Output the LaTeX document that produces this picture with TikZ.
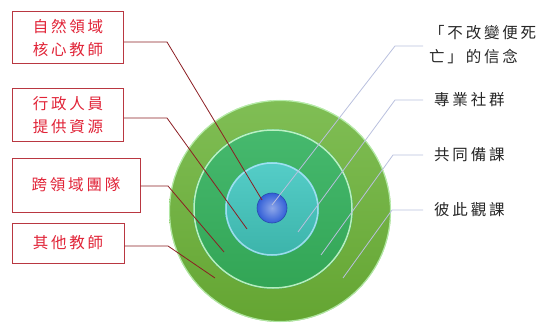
\documentclass[tikz,border=0pt]{standalone}
\usepackage{fontspec}
\setmainfont{Noto Sans CJK TC}[LetterSpace=18]
\definecolor{boxred}{RGB}{185,55,65}
\definecolor{txtred}{RGB}{225,35,55}
\definecolor{leadred}{RGB}{140,30,35}
\definecolor{leadblue}{RGB}{185,192,222}
\definecolor{outerA}{RGB}{128,190,85}
\definecolor{outerB}{RGB}{100,165,50}
\definecolor{midA}{RGB}{70,185,110}
\definecolor{midB}{RGB}{50,165,85}
\definecolor{tealA}{RGB}{85,205,200}
\definecolor{tealB}{RGB}{60,180,170}
\definecolor{ballC}{RGB}{50,95,215}
\tikzset{
  lbox/.style={draw=boxred, line width=1pt, fill=white, text=txtred, font=\fontsize{15.5}{23}\selectfont, align=center, inner sep=0pt},
  rlabel/.style={anchor=west, text=black!85, font=\fontsize{15.5}{24}\selectfont, align=left, inner sep=0pt},
  redlead/.style={draw=leadred, line width=0.8pt},
  bluelead/.style={draw=leadblue, line width=0.8pt},
}
\begin{document}
\begin{tikzpicture}[x=1pt,y=-1pt]
\useasboundingbox (0,0) rectangle (545,323);
% rings
\shade[top color=outerA, bottom color=outerB] (280,211) circle[radius=111pt];
\draw[green!20!white, line width=1.2pt, opacity=0.7] (280,211) circle[radius=110.5pt];
\shade[top color=midA, bottom color=midB] (273,209) circle[radius=80pt];
\draw[green!15!white, line width=1.5pt, opacity=0.8] (273,209) circle[radius=79pt];
\shade[top color=tealA, bottom color=tealB] (272,209) circle[radius=47pt];
\draw[cyan!30!white, line width=1.5pt, opacity=0.8] (272,209) circle[radius=46pt];
\shade[inner color=ballC!55!white, outer color=ballC] (272,208) circle[radius=15pt];
\draw[ballC!80!black, line width=0.6pt] (272,208) circle[radius=15pt];
% left boxes
\node[lbox, minimum width=111pt, minimum height=52pt] (b1) at (68,38) {自然領域\\核心教師};
\node[lbox, minimum width=111pt, minimum height=53pt] (b2) at (68,115.5) {行政人員\\提供資源};
\node[lbox, minimum width=128pt, minimum height=54pt] (b3) at (76,185) {跨領域團隊};
\node[lbox, minimum width=112pt, minimum height=40pt] (b4) at (68,243) {其他教師};
% red leaders
\coordinate (k1) at (167,42);  \coordinate (t1) at (262,200);
\coordinate (k2) at (167,118); \coordinate (t2) at (247,229);
\coordinate (k3) at (168,186); \coordinate (t3) at (224,252);
\coordinate (k4) at (168,246); \coordinate (t4) at (215,278);
\draw[redlead] (b1.east |- k1) -- (k1) -- (t1);
\draw[redlead] (b2.east |- k2) -- (k2) -- (t2);
\draw[redlead] (b3.east |- k3) -- (k3) -- (t3);
\draw[redlead] (b4.east |- k4) -- (k4) -- (t4);
% right labels
\node[rlabel] (r1) at (429,45) {「不改變便死\\亡」的信念};
\node[rlabel] (r2) at (434,100) {專業社群};
\node[rlabel] (r3) at (434,155) {共同備課};
\node[rlabel] (r4) at (434,210) {彼此觀課};
\coordinate (q1) at (395,46);  \coordinate (s1) at (272,205);
\coordinate (q2) at (395,100); \coordinate (s2) at (298,232);
\coordinate (q3) at (393,155); \coordinate (s3) at (321,255);
\coordinate (q4) at (392,210); \coordinate (s4) at (343,278);
\draw[bluelead] (423,46) -- (q1) -- (s1);
\draw[bluelead] (423,100) -- (q2) -- (s2);
\draw[bluelead] (423,155) -- (q3) -- (s3);
\draw[bluelead] (423,210) -- (q4) -- (s4);
\end{tikzpicture}
\end{document}
